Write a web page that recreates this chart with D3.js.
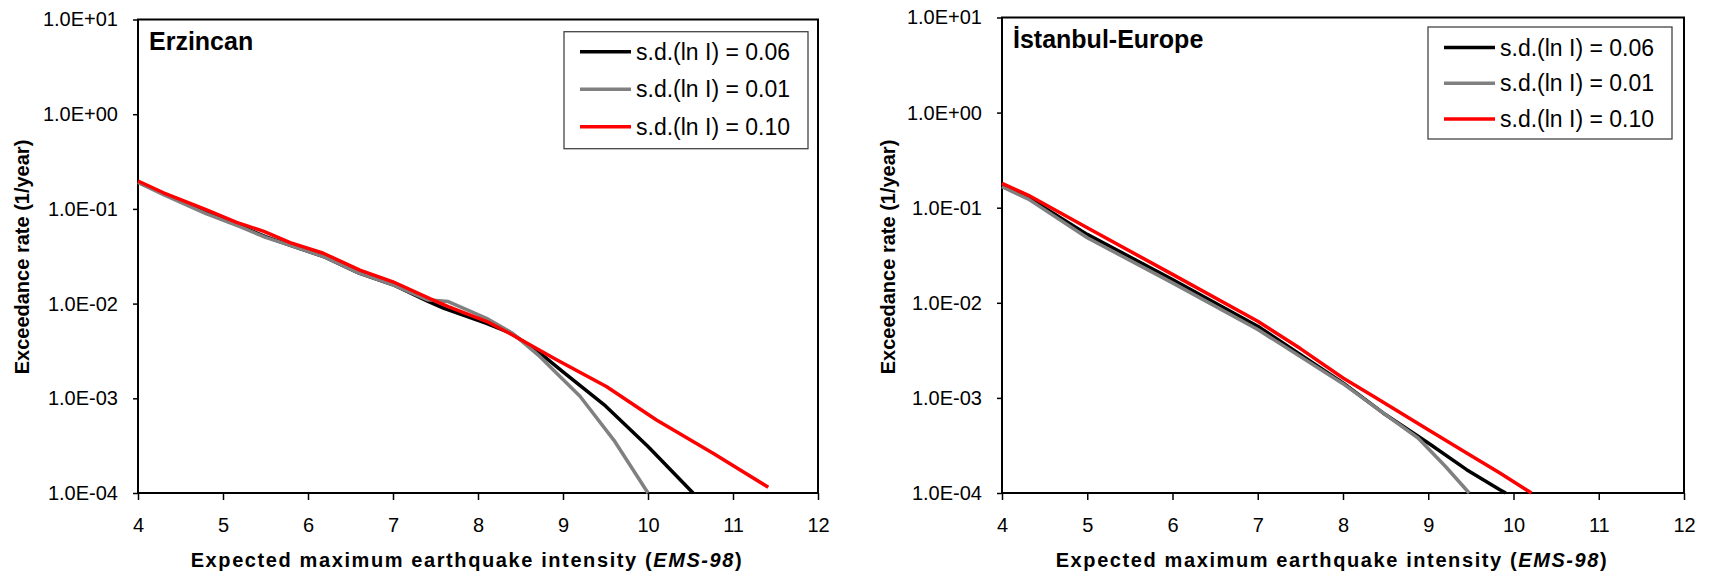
<html>
<head>
<script src="https://d3js.org/d3.v7.min.js"></script>
<style>
body { margin: 0; background: #fff; }
svg { display: block; font-family: "Liberation Sans", Arial, sans-serif; }
</style>
</head>
<body>
<div id="plot"></div>
<script>

/*** Data ***/

var legendLabels = ["s.d.(ln I) = 0.06", "s.d.(ln I) = 0.01", "s.d.(ln I) = 0.10"];
var panelTitles = ["Erzincan", "İstanbul-Europe"];
var xTicks = [4, 5, 6, 7, 8, 9, 10, 11, 12];
var yTicks = [1e-4, 1e-3, 1e-2, 1e-1, 1e0, 1e1];

// Erzincan
var erzX06 = [4.0, 4.3, 4.8, 5.2, 5.5, 5.8, 6.2, 6.6, 7.0, 7.4, 7.6, 8.1, 8.4, 8.73, 9.0, 9.5, 10.0, 10.53];
var erzY06 = [0.192, 0.145, 0.091, 0.066, 0.051, 0.041, 0.031, 0.021, 0.0158, 0.0107, 0.0089, 0.0062, 0.0048, 0.0030, 0.0019, 0.00083, 0.00031, 0.0001];
var erzX01 = [4.0, 4.3, 4.8, 5.2, 5.5, 5.8, 6.2, 6.6, 7.0, 7.4, 7.65, 8.1, 8.4, 8.73, 9.0, 9.2, 9.6, 10.0];
var erzY01 = [0.19, 0.141, 0.089, 0.065, 0.050, 0.041, 0.031, 0.021, 0.0158, 0.011, 0.0105, 0.0070, 0.0049, 0.00275, 0.00158, 0.00105, 0.00036, 0.0001];
var erzX10 = [4.0, 4.3, 4.8, 5.16, 5.48, 5.79, 6.18, 6.61, 7.0, 7.44, 7.65, 8.1, 8.38, 8.93, 9.51, 10.1, 10.77, 11.415];
var erzY10 = [0.197, 0.148, 0.098, 0.072, 0.058, 0.044, 0.034, 0.0226, 0.017, 0.0112, 0.0093, 0.0065, 0.0048, 0.00254, 0.00133, 0.00059, 0.000262, 0.000115];

// Istanbul-Europe
var istX06 = [4.0, 4.31, 5.0, 6.0, 7.0, 8.0, 8.47, 9.0, 9.45, 9.84, 9.91];
var istY06 = [0.169, 0.127, 0.0524, 0.0176, 0.00568, 0.00144, 0.000695, 0.000336, 0.000176, 0.000108, 0.0001];
var istX01 = [4.0, 4.31, 5.0, 6.0, 7.0, 8.0, 8.47, 8.88, 9.2, 9.48];
var istY01 = [0.166, 0.123, 0.0483, 0.0162, 0.00524, 0.00141, 0.000695, 0.000379, 0.000191, 0.0001];
var istX10 = [4.0, 4.31, 5.0, 6.0, 7.0, 7.5, 8.0, 8.39, 9.0, 9.45, 9.84, 10.21];
var istY10 = [0.180, 0.135, 0.0615, 0.0199, 0.0064, 0.0033, 0.00162, 0.001, 0.000463, 0.000264, 0.000162, 0.0001];

var seriesColors = ["#000000", "#808080", "#ff0000"];

/*** Layout ***/

var width = 1711;
var height = 577;

var svg = d3.select("#plot").append("svg")
.attr("width", width).attr("height", height);

var panels = [
	{ title: panelTitles[0], left: 138, right: 818, top: 19.5, bottom: 493,
	  xs: [erzX06, erzX01, erzX10], ys: [erzY06, erzY01, erzY10],
	  legend: { x: 564, y: 31.7, w: 244, h: 117, row0: 20, rowStep: 37.5 },
	  titleY: 50, yTitleX: 22 },
	{ title: panelTitles[1], left: 1002, right: 1684, top: 17.5, bottom: 493,
	  xs: [istX06, istX01, istX10], ys: [istY06, istY01, istY10],
	  legend: { x: 1428, y: 27, w: 244, h: 112, row0: 20.5, rowStep: 35.7 },
	  titleY: 48, yTitleX: 888 }
];

function sciFormat(d) {
	var e = Math.round(Math.log10(d));
	var s = e < 0 ? "-" : "+";
	var a = Math.abs(e);
	return "1.0E" + s + (a < 10 ? "0" + a : a);
}

panels.forEach(function (p) {
	var xScale = d3.scaleLinear().domain([4, 12]).range([p.left, p.right]);
	var yScale = d3.scaleLog().domain([1e-4, 1e1]).range([p.bottom, p.top]);

	var g = svg.append("g");

	// axes
	var xAxis = d3.axisBottom(xScale).tickValues(xTicks).tickFormat(d3.format("d"))
	.tickSize(7).tickSizeOuter(0).tickPadding(17.5);
	var xg = g.append("g").attr("transform", "translate(0," + p.bottom + ")").call(xAxis);

	var yAxis = d3.axisLeft(yScale).tickValues(yTicks).tickFormat(sciFormat)
	.tickSize(5).tickSizeOuter(0).tickPadding(15);
	var yg = g.append("g").attr("transform", "translate(" + p.left + ",0)").call(yAxis);

	[xg, yg].forEach(function (a) {
		a.select(".domain").remove();
		a.selectAll(".tick line").attr("stroke", "#000").attr("stroke-width", 1.5);
		a.selectAll(".tick text").attr("fill", "#000")
		.style("font-size", "20px").style("font-family", "'Liberation Sans', Arial, sans-serif");
	});

	// plot frame
	g.append("rect")
	.attr("x", p.left).attr("y", p.top)
	.attr("width", p.right - p.left).attr("height", p.bottom - p.top)
	.attr("fill", "none").attr("stroke", "#000").attr("stroke-width", 2);

	// curves
	var line = d3.line()
	.x(function (d) { return xScale(d[0]); })
	.y(function (d) { return yScale(d[1]); });

	p.xs.forEach(function (xs, i) {
		var pts = xs.map(function (x, j) { return [x, p.ys[i][j]]; });
		g.append("path").datum(pts)
		.attr("d", line)
		.attr("fill", "none")
		.attr("stroke", seriesColors[i])
		.attr("stroke-width", 3.5)
		.attr("stroke-linejoin", "round");
	});

	// panel title
	g.append("text")
	.attr("x", p.left + 11).attr("y", p.titleY)
	.style("font-size", "25px").style("font-weight", "bold")
	.text(p.title);

	// legend
	var lg = g.append("g").attr("transform", "translate(" + p.legend.x + "," + p.legend.y + ")");
	lg.append("rect")
	.attr("width", p.legend.w).attr("height", p.legend.h)
	.attr("fill", "#fff").attr("stroke", "#444").attr("stroke-width", 1.3);
	legendLabels.forEach(function (label, i) {
		var yy = p.legend.row0 + i * p.legend.rowStep;
		lg.append("line")
		.attr("x1", 16).attr("x2", 67).attr("y1", yy).attr("y2", yy)
		.attr("stroke", seriesColors[i]).attr("stroke-width", 3.5);
		lg.append("text")
		.attr("x", 72).attr("y", yy).attr("dy", "0.35em")
		.style("font-size", "23px")
		.text(label);
	});

	// axis titles
	var xt = g.append("text")
	.attr("x", (p.left + p.right) / 2 - 11).attr("y", 567)
	.attr("text-anchor", "middle")
	.style("font-size", "20px").style("font-weight", "bold").style("letter-spacing", "1.6px");
	xt.append("tspan").text("Expected maximum earthquake intensity (");
	xt.append("tspan").style("font-style", "italic").text("EMS-98");
	xt.append("tspan").text(")");

	g.append("text")
	.attr("transform", "translate(" + (p.yTitleX + 7) + "," + 257 + ") rotate(-90)")
	.attr("text-anchor", "middle")
	.style("font-size", "20px").style("font-weight", "bold")
	.text("Exceedance rate (1/year)");
});

</script>
</body>
</html>
